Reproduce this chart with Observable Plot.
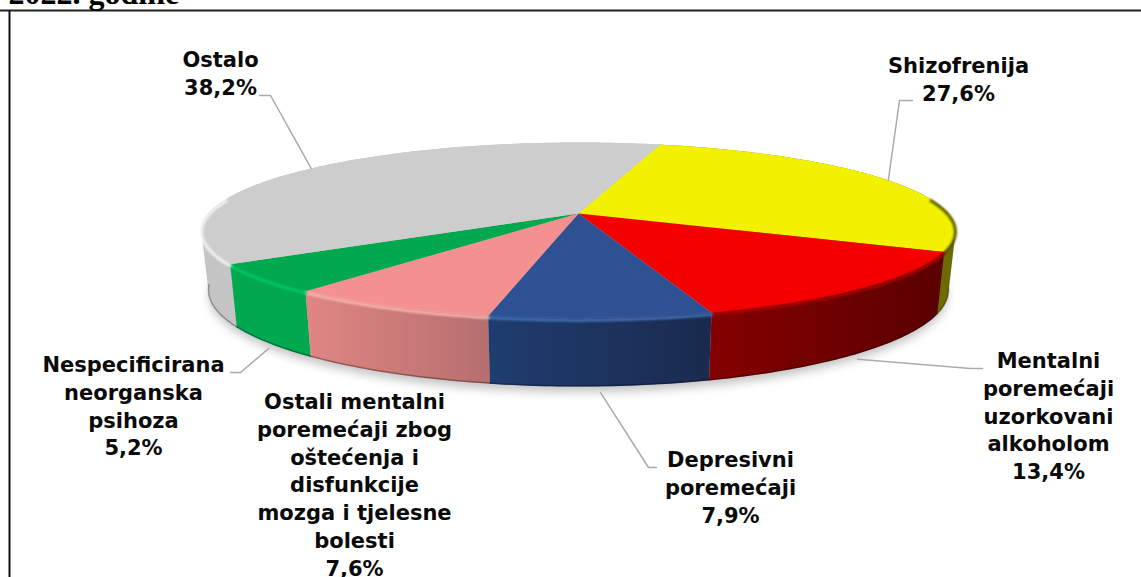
<!DOCTYPE html>
<html><head><meta charset="utf-8">
<script src="https://cdn.jsdelivr.net/npm/d3@7"></script>
<script src="https://cdn.jsdelivr.net/npm/@observablehq/plot@0.6"></script>
<style>html,body{margin:0;padding:0;background:#fff;overflow:hidden}svg{display:block}</style>
</head><body><div id="c"></div>
<script>
const labels = ["Shizofrenija\n27,6%","Mentalni\nporemećaji\nuzorkovani\nalkoholom\n13,4%","Depresivni\nporemećaji\n7,9%","Ostali mentalni\nporemećaji zbog\noštećenja i\ndisfunkcije\nmozga i tjelesne\nbolesti\n7,6%","Nespecificirana\nneorganska\npsihoza\n5,2%","Ostalo\n38,2%"];
const values = [27.6,13.4,7.9,7.6,5.2,38.2];
const topColors = ["#f2f200","#f50000","#2d5192","#f49090","#00a84f","#cdcdcd"];
const wallLeft = ["#8a8a00","#850000","#1f3d70","#e08683","#00a84f","#c0c0c0"];
const wallRight = ["#6a6a00","#5a0000","#1a2a4e","#b56f6e","#00a84f","#c8c8c8"];
const rimColors = ["#5c5c00","#a00000","#4270b4","#f9b4b0","#00c763","#f4f4f4"];
const labelX = [958,1048,730,354,133,220];
const labelY = [53,348,447,389,352,47];
const leaderElbows = [[[899,100],[912,100]],[[970,368],[982,368]],[[648,467],[656,467]],[],[[240,372],[230,372]],[[270,95],[259,95]]];
const leaderOnBase = [false,true,true,false,true,false];

const startAngle = 15.2, total = d3.sum(values);
const tilt = 0.193;
function project(deg, r, z){
  const t = deg*Math.PI/180, u = r*Math.sin(t), v = r*Math.cos(t), w = 1+tilt*v;
  return {x: 578+(370-7*z)*u/w, y: 213+58.7*z-(84.7+7.6*z)*v/w};
}
function arc(a0,a1,z){
  const n = Math.max(2,Math.ceil(Math.abs(a1-a0))), out=[];
  for(let i=0;i<=n;i++) out.push(project(a0+(a1-a0)*i/n,1,z));
  return out;
}
function hull(points){
  return d3.polygonHull(points.map(p=>[p.x,p.y])).map(([x,y])=>({x,y}));
}
let acc = startAngle;
const slices = values.map((v,i)=>{const a0=acc; acc+=v/total*360; return {i,a0,a1:acc,mid:(a0+acc)/2};});

const defs = () => {
  const d = d3.create("svg:defs");
  slices.forEach(s=>{
    const g = d.append("linearGradient").attr("id","wall"+s.i).attr("x1",0).attr("x2",1).attr("y1",0).attr("y2",0);
    g.append("stop").attr("offset","0%").attr("stop-color",wallLeft[s.i]);
    g.append("stop").attr("offset","100%").attr("stop-color",wallRight[s.i]);
  });
  return d.node();
};

const poly = (data,fill,extra={}) => Plot.line(data,{x:"x",y:"y",fill,stroke:"none",...extra});
const marks = [
  defs,
  Plot.ruleY([10],{stroke:"#222",strokeWidth:2}),
  Plot.ruleX([9],{y1:10,y2:577,stroke:"#111",strokeWidth:2}),
  Plot.text(["2022. godine"],{x:8,y:3,text:d=>d,textAnchor:"start",lineAnchor:"bottom",fontFamily:"Liberation Serif",fontWeight:"bold",fontSize:32,fill:"#000"}),
  poly(arc(0,360,1.08),"#c4c4c4",{imageFilter:"blur(5px)"})
];
// walls, back to front
[5,0,4,3,1,2].forEach(i=>{
  const s=slices[i];
  marks.push(poly(hull([...arc(s.a0,s.a1,0),...arc(s.a1,s.a0,1)]),s.i===5?"#c4c4c4":`url(#wall${i})`));
});
// base edge
slices.forEach(s=>{
  const a0=Math.max(s.a0,100),a1=Math.min(s.a1,262);
  if(a1>a0) marks.push(Plot.line(arc(a0,a1,0.99),{x:"x",y:"y",stroke:"#000",strokeOpacity:0.3,strokeWidth:1.5,imageFilter:"blur(0.6px)"}));
});
// top faces
slices.forEach(s=>{
  marks.push(poly([project(0,0,0),...arc(s.a0,s.a1,0)],topColors[s.i]));
});
// bevel along the front rim
slices.forEach(s=>{
  const a0=Math.max(s.a0,80),a1=Math.min(s.a1,280);
  if(a1>a0) marks.push(Plot.line(arc(a0,a1,0.025),{x:"x",y:"y",stroke:rimColors[s.i],strokeWidth:3,imageFilter:"blur(1.2px)"}));
});
// leader lines
slices.forEach(s=>{
  const el=leaderElbows[s.i];
  if(!el.length) return;
  const base=leaderOnBase[s.i];
  const p=project(s.mid,1,base?1.09:0);
  marks.push(Plot.line([p,...el.map(([x,y])=>({x,y}))],{x:"x",y:"y",stroke:"#aaa",strokeWidth:1.5}));
});
marks.push(Plot.text(slices,{x:d=>labelX[d.i],y:d=>labelY[d.i],text:d=>labels[d.i],textAnchor:"middle",lineAnchor:"top",lineHeight:1.32,fontFamily:"DejaVu Sans",fontWeight:"bold",fontSize:21,fill:"#0a0a0a"}));

const chart = Plot.plot({width:1141,height:577,margin:0,
  x:{domain:[0,1141],range:[0,1141],axis:null},
  y:{domain:[0,577],range:[0,577],axis:null},
  marks});
document.getElementById("c").append(chart);
</script></body></html>
